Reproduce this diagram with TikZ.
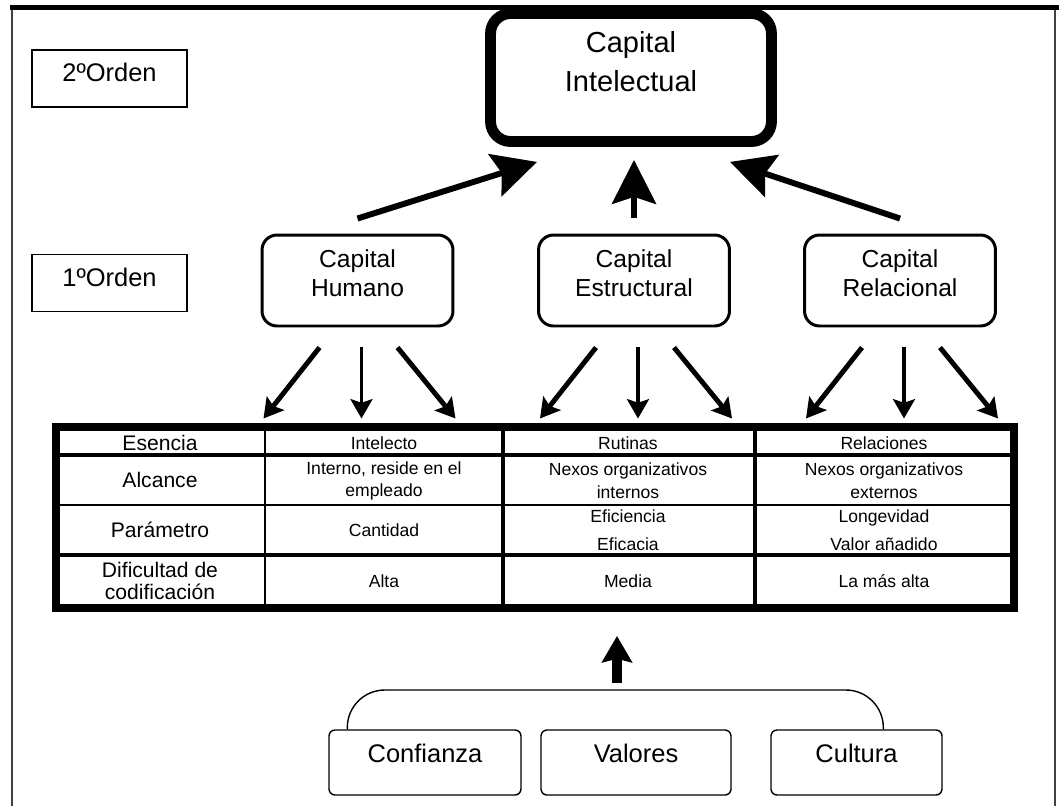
\documentclass[tikz,border=0pt]{standalone}
\usepackage{fontspec}
\setmainfont{Liberation Sans}
\usetikzlibrary{arrows.meta,calc}

\begin{document}
\begin{tikzpicture}[x=0.02cm,y=-0.02cm,
  orden/.style={draw,line width=0.85pt,minimum width=3.1cm,minimum height=1.14cm,font=\fontsize{14.5}{17}\selectfont,text depth=6.8pt},
  capbox/.style={draw,rounded corners=0.3cm,line width=1.7pt,minimum width=3.82cm,minimum height=1.82cm,align=center,font=\fontsize{14}{17}\selectfont,text depth=8.5pt},
  basebox/.style={draw,rounded corners=0.12cm,line width=0.8pt,minimum height=1.3cm,font=\fontsize{14.5}{17}\selectfont,text depth=11pt},
  celda/.style={align=center,inner sep=0pt,font=\fontsize{10}{13}\selectfont},
  celdaizq/.style={align=center,inner sep=0pt,font=\fontsize{12}{13}\selectfont},
  bigarrow/.style={line width=3.4pt,-{Stealth[length=25pt,width=25pt,inset=4pt]}},
  smallarrow/.style={line width=2.8pt,-{Stealth[length=11pt,width=12.5pt,inset=2pt]}}]
\useasboundingbox (0,0) rectangle (1059,806);
% marco
\draw[black!75,line width=1pt] (12,806) -- (12,8) (1055,8) -- (1055,806);
\draw[line width=2.8pt] (10,7.5) -- (1059,7.5);
% niveles
\node[orden] (orden2) at (109.5,78.5) {2ºOrden};
\node[orden] (orden1) at (109.5,283) {1ºOrden};
\node[draw,rounded corners=0.4cm,line width=6.2pt,minimum width=5.62cm,minimum height=2.56cm,align=center,font=\fontsize{16.5}{22}\selectfont,text depth=18pt] (ci) at (631,77.5) {Capital\\Intelectual};
\node[capbox] (hum) at (357.5,280.5) {Capital\\Humano};
\node[capbox] (est) at (634,280.5) {Capital\\Estructural};
\node[capbox] (rel) at (900,280.5) {Capital\\Relacional};
\draw[bigarrow] ($(hum.north)+(0,-15)$) -- ($(ci.south)+(-94,15)$);
\draw[bigarrow] ($(est.north)+(0,-16)$) -- ($(est.north |- ci.south)+(0,13)$);
\draw[bigarrow] ($(rel.north)+(0,-15)$) -- ($(ci.south)+(99,15)$);
\foreach \b in {hum,est,rel} {
  \draw[smallarrow] ($(\b.south)+(-38,20)$) -- ($(\b.south)+(-94,91)$);
  \draw[smallarrow,line width=1.8pt] ($(\b.south)+(4,20)$) -- ($(\b.south)+(4,91)$);
  \draw[smallarrow] ($(\b.south)+(40,20)$) -- ($(\b.south)+(98,91)$);
}
% tabla
\node[draw,line width=4.5pt,minimum width=19.16cm,minimum height=3.62cm] (tabla) at (535,517.5) {};
\foreach \y/\w in {455/2.8pt,505/1pt,555/2.8pt} \draw[line width=\w] (56,\y) -- (1014,\y);
\foreach \x/\w in {265/1.2pt,503/2.2pt,755/2.2pt} \draw[line width=\w] (\x,427) -- (\x,608);
\node[celdaizq] (esencia) at (160,443) {Esencia};
\node[celda] (intelecto) at (384,443) {Intelecto};
\node[celda] (rutinas) at (628,443) {Rutinas};
\node[celda] (relaciones) at (884,443) {Relaciones};
\node[celdaizq] (alcance) at (160,480) {Alcance};
\node[celda] (interno) at (384,481) {Interno, reside en el\\empleado};
\node[celda] (nexosint) at (628,481) {Nexos organizativos\\internos};
\node[celda] (nexosext) at (884,481) {Nexos organizativos\\externos};
\node[celdaizq] (parametro) at (160,530) {Parámetro};
\node[celda] (cantidad) at (384,530) {Cantidad};
\node[celda,font=\fontsize{10}{16}\selectfont] (eficiencia) at (628,530) {Eficiencia\\Eficacia};
\node[celda,font=\fontsize{10}{16}\selectfont] (longevidad) at (884,530) {Longevidad\\Valor añadido};
\node[celdaizq] (dificultad) at (160,581) {Dificultad de\\codificación};
\node[celda] (alta) at (384,581) {Alta};
\node[celda] (media) at (628,581) {Media};
\node[celda] (masalta) at (884,581) {La más alta};
% base
\node[basebox,minimum width=3.84cm] (conf) at (425,762.5) {Confianza};
\node[basebox,minimum width=3.8cm] (val) at (636,762.5) {Valores};
\node[basebox,minimum width=3.42cm] (cult) at (856.5,762.5) {Cultura};
\coordinate (union) at (617,690);
\draw[line width=0.8pt,rounded corners=0.75cm] ($(conf.north west)+(19,0)$) |- (union) -| ($(cult.north west)+(113,0)$);
\draw[line width=5.7pt,-{Stealth[length=15pt,width=17pt,inset=2pt]}] ($(union)+(0,-7)$) -- ($(union |- tabla.south)+(0,24)$);
\end{tikzpicture}
\end{document}
